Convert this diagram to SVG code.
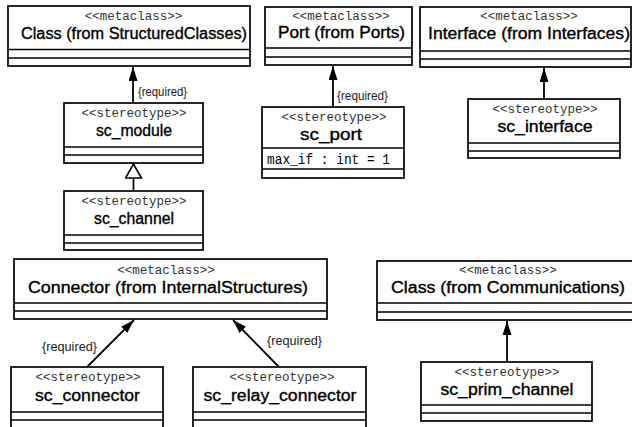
<svg xmlns="http://www.w3.org/2000/svg" width="632" height="427" viewBox="0 0 632 427">
<style>
.box{fill:#fff;stroke:#000;stroke-width:1.7}
.sep{stroke:#000;stroke-width:1.7}
.st{font-family:"Liberation Mono","Courier New",monospace;font-size:12.5px;fill:#333;text-anchor:middle}
.nm{font-family:"Liberation Sans",Arial,sans-serif;font-size:16px;fill:#000;text-anchor:middle;stroke:#000;stroke-width:0.35}
.at{font-family:"Liberation Mono","Courier New",monospace;font-size:14px;fill:#000}
.lb{font-family:"Liberation Sans",Arial,sans-serif;font-size:12px;fill:#222}
.edge{stroke:#000;stroke-width:1.8;fill:none}
</style>
<defs>
<marker id="arr" markerUnits="userSpaceOnUse" markerWidth="16" markerHeight="12" refX="14" refY="4.5" orient="auto">
<path d="M0,0 L14,4.5 L0,9 z" fill="#000"/>
</marker>
<marker id="gen" markerUnits="userSpaceOnUse" markerWidth="18" markerHeight="20" refX="15" refY="9" orient="auto">
<path d="M1,1 L15,9 L1,17 z" fill="#fff" stroke="#000" stroke-width="1.6"/>
</marker>
</defs>
<rect width="632" height="427" fill="#fff"/>

<g id="class_structured">
<rect class="box" x="8" y="6" width="242" height="60"/>
<line class="sep" x1="8" y1="49.5" x2="250" y2="49.5"/>
<line class="sep" x1="8" y1="58" x2="250" y2="58"/>
<text class="st" x="133.5" y="20">&lt;&lt;metaclass&gt;&gt;</text>
<text class="nm" x="134" y="39" textLength="226" lengthAdjust="spacingAndGlyphs">Class (from StructuredClasses)</text>
</g>

<g id="sc_module">
<rect class="box" x="64" y="103" width="139" height="60"/>
<line class="sep" x1="64" y1="147" x2="203" y2="147"/>
<line class="sep" x1="64" y1="155" x2="203" y2="155"/>
<text class="st" x="134" y="117">&lt;&lt;stereotype&gt;&gt;</text>
<text class="nm" x="134" y="136" textLength="76" lengthAdjust="spacingAndGlyphs">sc_module</text>
</g>

<g id="sc_channel">
<rect class="box" x="64" y="191" width="139" height="59"/>
<line class="sep" x1="64" y1="235" x2="203" y2="235"/>
<line class="sep" x1="64" y1="243" x2="203" y2="243"/>
<text class="st" x="134" y="205">&lt;&lt;stereotype&gt;&gt;</text>
<text class="nm" x="134" y="224" textLength="80" lengthAdjust="spacingAndGlyphs">sc_channel</text>
</g>

<g id="port">
<rect class="box" x="265" y="7" width="147" height="58"/>
<line class="sep" x1="265" y1="48" x2="412" y2="48"/>
<line class="sep" x1="265" y1="57" x2="412" y2="57"/>
<text class="st" x="341" y="20">&lt;&lt;metaclass&gt;&gt;</text>
<text class="nm" x="341.5" y="38" textLength="127" lengthAdjust="spacingAndGlyphs">Port (from Ports)</text>
</g>

<g id="sc_port">
<rect class="box" x="262" y="107" width="142" height="71"/>
<line class="sep" x1="262" y1="148" x2="404" y2="148"/>
<line class="sep" x1="262" y1="169" x2="404" y2="169"/>
<text class="st" x="334" y="121">&lt;&lt;stereotype&gt;&gt;</text>
<text class="nm" x="331" y="140" textLength="62" lengthAdjust="spacingAndGlyphs">sc_port</text>
<text class="at" x="267" y="164" textLength="123" lengthAdjust="spacingAndGlyphs">max_if : int = 1</text>
</g>

<g id="interface">
<rect class="box" x="420" y="7" width="211" height="60"/>
<line class="sep" x1="420" y1="51" x2="631" y2="51"/>
<line class="sep" x1="420" y1="59" x2="631" y2="59"/>
<text class="st" x="529" y="20">&lt;&lt;metaclass&gt;&gt;</text>
<text class="nm" x="529" y="39" textLength="202" lengthAdjust="spacingAndGlyphs">Interface (from Interfaces)</text>
</g>

<g id="sc_interface">
<rect class="box" x="468" y="99" width="152" height="59"/>
<line class="sep" x1="468" y1="143" x2="620" y2="143"/>
<line class="sep" x1="468" y1="151" x2="620" y2="151"/>
<text class="st" x="545" y="113">&lt;&lt;stereotype&gt;&gt;</text>
<text class="nm" x="545" y="132" textLength="95" lengthAdjust="spacingAndGlyphs">sc_interface</text>
</g>

<g id="connector">
<rect class="box" x="14" y="259" width="313" height="60"/>
<line class="sep" x1="14" y1="303" x2="327" y2="303"/>
<line class="sep" x1="14" y1="311" x2="327" y2="311"/>
<text class="st" x="166" y="274">&lt;&lt;metaclass&gt;&gt;</text>
<text class="nm" x="168" y="293" textLength="280" lengthAdjust="spacingAndGlyphs">Connector (from InternalStructures)</text>
</g>

<g id="sc_connector">
<rect class="box" x="11" y="367" width="152" height="66"/>
<line class="sep" x1="11" y1="412" x2="163" y2="412"/>
<line class="sep" x1="11" y1="420" x2="163" y2="420"/>
<text class="st" x="88" y="381">&lt;&lt;stereotype&gt;&gt;</text>
<text class="nm" x="87.5" y="401" textLength="105" lengthAdjust="spacingAndGlyphs">sc_connector</text>
</g>

<g id="sc_relay_connector">
<rect class="box" x="193" y="367" width="173" height="66"/>
<line class="sep" x1="193" y1="412" x2="366" y2="412"/>
<line class="sep" x1="193" y1="420" x2="366" y2="420"/>
<text class="st" x="282" y="381">&lt;&lt;stereotype&gt;&gt;</text>
<text class="nm" x="280" y="401" textLength="153" lengthAdjust="spacingAndGlyphs">sc_relay_connector</text>
</g>

<g id="class_communications">
<rect class="box" x="377" y="261" width="258" height="59"/>
<line class="sep" x1="377" y1="303" x2="635" y2="303"/>
<line class="sep" x1="377" y1="312" x2="635" y2="312"/>
<text class="st" x="508" y="274">&lt;&lt;metaclass&gt;&gt;</text>
<text class="nm" x="508" y="293" textLength="234" lengthAdjust="spacingAndGlyphs">Class (from Communications)</text>
</g>

<g id="sc_prim_channel">
<rect class="box" x="421" y="362" width="171" height="59"/>
<line class="sep" x1="421" y1="405" x2="592" y2="405"/>
<line class="sep" x1="421" y1="413" x2="592" y2="413"/>
<text class="st" x="507" y="376">&lt;&lt;stereotype&gt;&gt;</text>
<text class="nm" x="507" y="395" textLength="133" lengthAdjust="spacingAndGlyphs">sc_prim_channel</text>
</g>

<g id="connectors">
<line class="edge" x1="133" y1="103" x2="133" y2="67" marker-end="url(#arr)"/>
<text class="lb" x="138" y="96" textLength="49" lengthAdjust="spacingAndGlyphs">{required}</text>
<line class="edge" x1="133.5" y1="191" x2="133.5" y2="164" marker-end="url(#gen)"/>
<line class="edge" x1="333" y1="107" x2="333" y2="66" marker-end="url(#arr)"/>
<text class="lb" x="337" y="100" textLength="51" lengthAdjust="spacingAndGlyphs">{required}</text>
<line class="edge" x1="544" y1="99" x2="544" y2="68" marker-end="url(#arr)"/>
<line class="edge" x1="87" y1="367" x2="134" y2="320" marker-end="url(#arr)"/>
<text class="lb" x="42" y="351" textLength="55" lengthAdjust="spacingAndGlyphs">{required}</text>
<line class="edge" x1="279" y1="367" x2="233" y2="320" marker-end="url(#arr)"/>
<text class="lb" x="267" y="345" textLength="55" lengthAdjust="spacingAndGlyphs">{required}</text>
<line class="edge" x1="507" y1="362" x2="507" y2="321" marker-end="url(#arr)"/>
</g>
</svg>
